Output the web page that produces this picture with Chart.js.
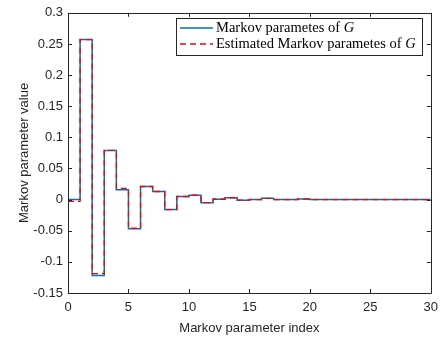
<!DOCTYPE html>
<html>
<head>
<meta charset="utf-8">
<script src="https://cdn.jsdelivr.net/npm/chart.js@4"></script>
<style>
  html, body { margin: 0; padding: 0; background: #fff; }
  #wrap { width: 445px; height: 339px; }
</style>
</head>
<body>
<div id="wrap"><canvas id="chart" width="445" height="339"></canvas></div>
<script>
// Markov parameter index 0..30
const indices = [0, 1, 2, 3, 4, 5, 6, 7, 8, 9, 10, 11, 12, 13, 14, 15,
  16, 17, 18, 19, 20, 21, 22, 23, 24, 25, 26, 27, 28, 29, 30];

// true Markov parameters of G
const markovTrue = [0, 0.257, -0.122, 0.079, 0.016, -0.047, 0.021, 0.013,
  -0.016, 0.005, 0.007, -0.005, 0.0005, 0.003, -0.001, 0, 0.002, 0, 0,
  0.001, 0, 0, 0, 0, 0, 0, 0, 0, 0, 0, 0];

// estimated Markov parameters of G
const markovEst = [-0.003, 0.257, -0.119, 0.079, 0.018, -0.046, 0.021, 0.013,
  -0.016, 0.005, 0.007, -0.005, 0.001, 0.003, -0.001, 0, 0.002, 0, 0,
  0.001, 0, 0, 0, 0, 0, 0, 0, 0, 0, 0, 0];

const xTicks = [0, 5, 10, 15, 20, 25, 30];
const yTicks = [-0.15, -0.1, -0.05, 0, 0.05, 0.1, 0.15, 0.2, 0.25, 0.3];

const legendItems = [
  { text: 'Markov parametes of ', sym: 'G', color: '#0072BD', dash: [] },
  { text: 'Estimated Markov parametes of ', sym: 'G', color: '#FF0000', dash: [6, 4] }
];

const axisColor = '#262626';

// box around the axes, inward ticks on all four sides, and the legend
const framePlugin = {
  id: 'frame',
  afterDraw(chart) {
    const ctx = chart.ctx;
    const a = chart.chartArea;
    const xs = chart.scales.x, ys = chart.scales.y;
    ctx.save();
    ctx.strokeStyle = axisColor;
    ctx.lineWidth = 1;
    ctx.beginPath();
    ctx.rect(Math.round(a.left) + 0.5, Math.round(a.top) + 0.5,
      Math.round(a.right - a.left), Math.round(a.bottom - a.top));
    ctx.stroke();
    const tl = 4;
    ctx.beginPath();
    xTicks.forEach(v => {
      const px = Math.round(xs.getPixelForValue(v)) + 0.5;
      ctx.moveTo(px, a.bottom); ctx.lineTo(px, a.bottom - tl);
      ctx.moveTo(px, a.top); ctx.lineTo(px, a.top + tl);
    });
    yTicks.forEach(v => {
      const py = Math.round(ys.getPixelForValue(v)) + 0.5;
      ctx.moveTo(a.left, py); ctx.lineTo(a.left + tl, py);
      ctx.moveTo(a.right, py); ctx.lineTo(a.right - tl, py);
    });
    ctx.stroke();

    // legend
    const bx = 176.5, by = 18.5, bw = 246, bh = 37;
    ctx.fillStyle = '#fff';
    ctx.fillRect(bx, by, bw, bh);
    ctx.lineWidth = 1;
    ctx.strokeStyle = axisColor;
    ctx.strokeRect(bx, by, bw, bh);
    legendItems.forEach((it, i) => {
      const y = 28 + i * 16;
      ctx.beginPath();
      ctx.strokeStyle = it.color;
      ctx.lineWidth = 1.5;
      ctx.setLineDash(it.dash);
      ctx.moveTo(180, y);
      ctx.lineTo(213, y);
      ctx.stroke();
      ctx.setLineDash([]);
      ctx.fillStyle = '#000';
      ctx.textBaseline = 'middle';
      ctx.textAlign = 'left';
      ctx.font = '14.5px "Liberation Serif"';
      ctx.fillText(it.text, 216, y + 0.5);
      const w = ctx.measureText(it.text).width;
      ctx.font = 'italic 14.5px "Liberation Serif"';
      ctx.fillText(it.sym, 216 + w, y + 0.5);
    });
    ctx.restore();
  }
};

new Chart(document.getElementById('chart'), {
  type: 'line',
  data: {
    datasets: [
      {
        label: 'Estimated Markov parametes of G',
        data: indices.map((k, i) => ({ x: k, y: markovEst[i] })),
        borderColor: '#FF0000',
        borderWidth: 1.3,
        borderDash: [6, 4],
        stepped: 'before',
        pointRadius: 0,
        fill: false
      },
      {
        label: 'Markov parametes of G',
        data: indices.map((k, i) => ({ x: k, y: markovTrue[i] })),
        borderColor: '#0072BD',
        borderWidth: 1.5,
        stepped: 'before',
        pointRadius: 0,
        fill: false
      }
    ]
  },
  options: {
    responsive: false,
    animation: false,
    layout: { padding: { top: 7, right: 13, left: 0, bottom: 0 } },
    plugins: {
      legend: { display: false },
      tooltip: { enabled: false }
    },
    scales: {
      x: {
        type: 'linear',
        min: 0, max: 30,
        afterBuildTicks: s => { s.ticks = xTicks.map(v => ({ value: v })); },
        afterFit: s => { s.height = 46; },
        grid: { display: false, drawTicks: false },
        border: { display: false },
        ticks: {
          color: axisColor,
          font: { family: '"Liberation Sans", Arial', size: 13 },
          padding: 7,
          maxRotation: 0
        },
        title: {
          display: true,
          text: 'Markov parameter index',
          color: axisColor,
          font: { family: '"Liberation Sans", Arial', size: 13 },
          padding: { top: 0, bottom: 3 }
        }
      },
      y: {
        min: -0.15, max: 0.3,
        afterBuildTicks: s => { s.ticks = yTicks.map(v => ({ value: v })); },
        afterFit: s => { s.width = 68; },
        grid: { display: false, drawTicks: false },
        border: { display: false },
        ticks: {
          color: axisColor,
          font: { family: '"Liberation Sans", Arial', size: 13 },
          padding: 5,
          callback: v => String(Math.round(v * 100) / 100)
        },
        title: {
          display: true,
          text: 'Markov parameter value',
          color: axisColor,
          font: { family: '"Liberation Sans", Arial', size: 13 },
          padding: { top: 17, bottom: 0 }
        }
      }
    }
  },
  plugins: [framePlugin]
});
</script>
</body>
</html>
